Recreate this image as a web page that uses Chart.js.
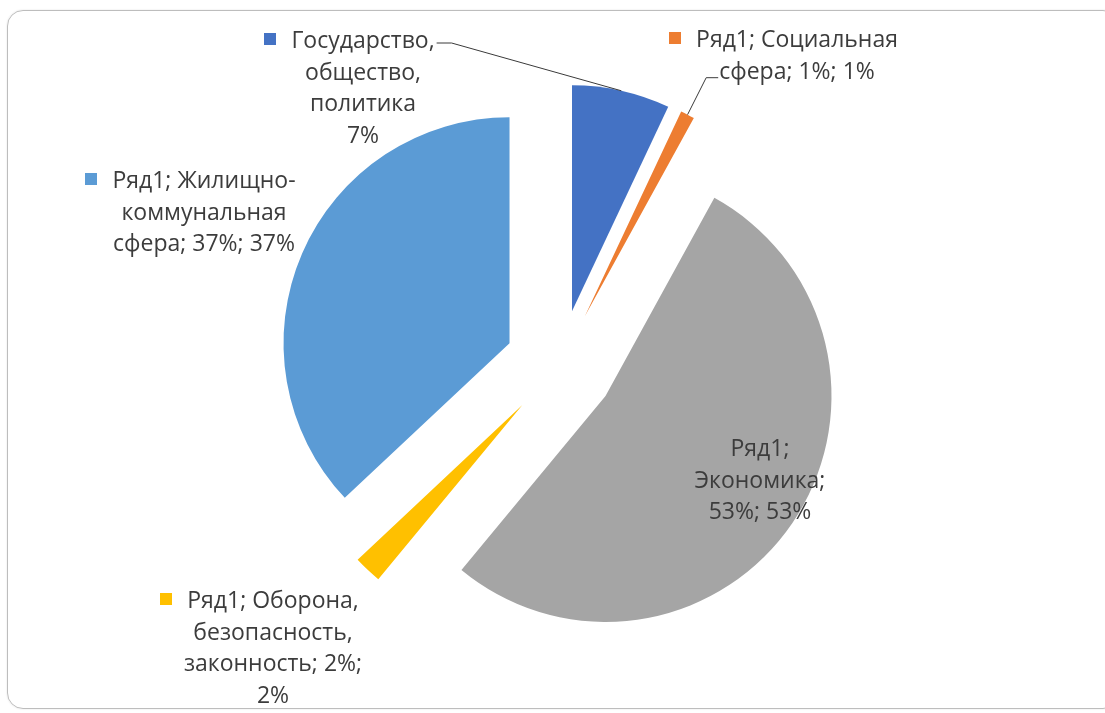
<!DOCTYPE html>
<html>
<head>
<meta charset="utf-8">
<script src="https://cdn.jsdelivr.net/npm/chart.js@4.4.1/dist/chart.umd.min.js"></script>
<style>
  html, body { margin: 0; padding: 0; background: #fff; }
  #wrap { position: relative; width: 1105px; height: 713px; overflow: hidden; }
  #frame { position: absolute; left: 7px; top: 10px; width: 1110px; height: 697px;
           border: 1px solid #bdbdbd; border-radius: 16px; box-shadow: 0 0 2px rgba(0,0,0,0.12); }
  canvas { position: absolute; left: 0; top: 0; }
</style>
</head>
<body>
<div id="wrap">
  <div id="frame"></div>
  <canvas id="sharesChart" width="1105" height="713"></canvas>
</div>
<script>
// Data
const categories = ['Государство, общество, политика', 'Социальная сфера', 'Экономика',
                    'Оборона, безопасность, законность', 'Жилищно-коммунальная сфера'];
const seriesName = 'Ряд1';
const shares = [7, 1, 53, 2, 37];
const colors = ['#4472C4', '#ED7D31', '#A5A5A5', '#FFC000', '#5B9BD5'];

// Data label text, wrapped the way the original shows it
const labelLines = [
  ['Государство,', 'общество,', 'политика', '7%'],
  ['Ряд1; Социальная', 'сфера; 1%; 1%'],
  ['Ряд1;', 'Экономика;', '53%; 53%'],
  ['Ряд1; Оборона,', 'безопасность,', 'законность; 2%;', '2%'],
  ['Ряд1; Жилищно-', 'коммунальная', 'сфера; 37%; 37%']
];
// label block placement: centre x, first baseline y, leader side
const labelPlace = [
  { x: 363, y: 48, leader: 'right' },
  { x: 797, y: 47, leader: 'left' },
  { x: 760, y: 456, leader: null },
  { x: 273, y: 608, leader: null },
  { x: 204, y: 188, leader: null }
];

const EXPLODE = 55;
const LINE_H = 31.7;
const FONT = '23px "Open Sans"';

// pull every slice out along its bisector
const explodePlugin = {
  id: 'explode',
  beforeDatasetDraw(chart, args) {
    const ctx = chart.ctx;
    args.meta.data.forEach(arc => {
      const mid = (arc.startAngle + arc.endAngle) / 2;
      ctx.save();
      ctx.translate(Math.cos(mid) * EXPLODE, Math.sin(mid) * EXPLODE);
      arc.draw(ctx);
      ctx.restore();
    });
    return false;
  }
};

const labelPlugin = {
  id: 'sliceLabels',
  afterDraw(chart) {
    const ctx = chart.ctx;
    const arcs = chart.getDatasetMeta(0).data;
    ctx.save();
    ctx.font = FONT;
    ctx.textAlign = 'center';
    ctx.textBaseline = 'alphabetic';
    labelLines.forEach((lines, i) => {
      const p = labelPlace[i];
      ctx.fillStyle = '#3c3c3c';
      lines.forEach((t, k) => ctx.fillText(t, p.x, p.y + k * LINE_H));
      // legend key before the first line
      const w0 = ctx.measureText(lines[0]).width;
      ctx.fillStyle = colors[i];
      ctx.fillRect(Math.round(p.x - w0 / 2 - 27), Math.round(p.y - 15), 12, 12);

      if (p.leader) {
        const arc = arcs[i];
        const mid = (arc.startAngle + arc.endAngle) / 2;
        const r = arc.outerRadius + EXPLODE;
        const ex = arc.x + Math.cos(mid) * r, ey = arc.y + Math.sin(mid) * r;
        ctx.strokeStyle = '#3a3a3a';
        ctx.lineWidth = 1;
        ctx.beginPath();
        if (p.leader === 'right') {
          const sx = p.x + w0 / 2 + 2, sy = p.y - 5;
          ctx.moveTo(sx, sy);
          ctx.lineTo(sx + 15, sy);
        } else {
          const w1 = ctx.measureText(lines[1]).width;
          const sx = p.x - w1 / 2 - 1, sy = p.y + LINE_H - 1;
          ctx.moveTo(sx, sy);
          ctx.lineTo(sx - 12, sy);
        }
        ctx.lineTo(ex, ey);
        ctx.stroke();
      }
    });
    ctx.restore();
  }
};

new Chart(document.getElementById('sharesChart').getContext('2d'), {
  type: 'pie',
  data: {
    labels: categories,
    datasets: [{
      label: seriesName,
      data: shares,
      backgroundColor: colors,
      borderWidth: 0,
      radius: 226
    }]
  },
  options: {
    responsive: false,
    animation: false,
    layout: { padding: { left: 15, top: 17, right: 0, bottom: 0 } },
    plugins: { legend: { display: false }, tooltip: { enabled: false } }
  },
  plugins: [explodePlugin, labelPlugin]
});
</script>
</body>
</html>
